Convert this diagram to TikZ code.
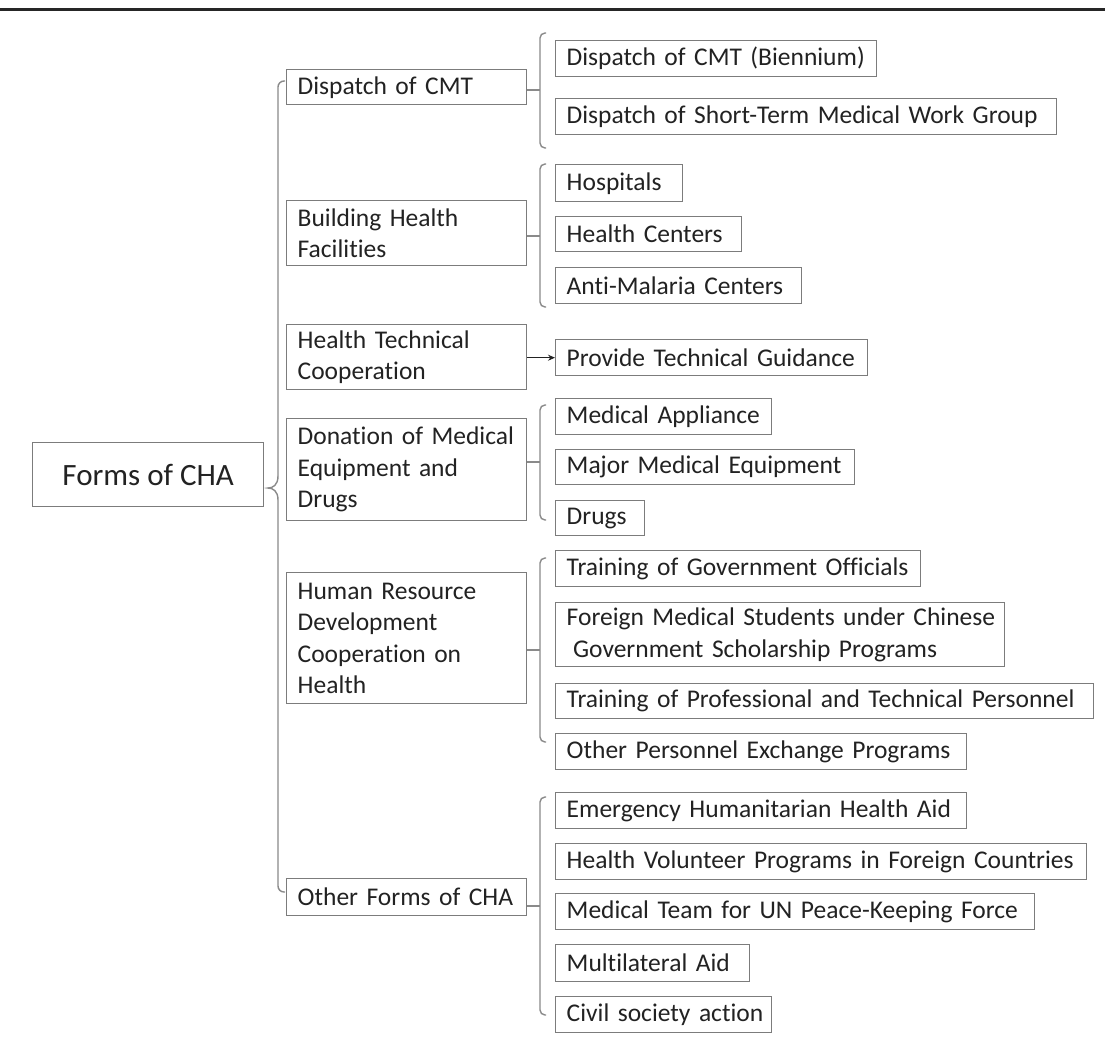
\documentclass[tikz,border=0pt]{standalone}
\usepackage{fontspec}
\setmainfont{Carlito}[Ligatures=NoCommon]
\usetikzlibrary{arrows.meta}
\definecolor{boxgray}{HTML}{7C7C7C}
\definecolor{txt}{HTML}{222222}
\definecolor{brgray}{HTML}{8A8A8A}
\tikzset{
  box/.style={draw=boxgray, line width=1.4pt, text=txt, anchor=north west,
    inner xsep=11pt, inner ysep=0pt, align=left,
    font=\fontsize{25.5}{31.5}\selectfont},
  rootbox/.style={draw=boxgray, line width=1.4pt, text=txt, anchor=north west,
    inner sep=0pt, align=center, font=\fontsize{31}{36}\selectfont},
  brace/.style={draw=brgray, line width=1.4pt},
  conn/.style={draw=txt, line width=1.3pt}
}
\newcommand{\bx}[6]{\node[box, minimum width=#4pt, text width=#4pt-22pt, minimum height=#5pt] (#1) at (#2,#3) {#6};}
\begin{document}
\begin{tikzpicture}[x=1pt,y=-1pt]
\useasboundingbox (0,0) rectangle (1105,1058);
\fill[white] (0,0) rectangle (1105,1058);
\coordinate (tl) at (0,9);
\coordinate (tr) at (1105,9);
\draw[line width=3pt, draw=black!85] (tl) -- (tr);

% root
\node[rootbox, minimum width=231pt, minimum height=64pt] (root) at (32,442) {Forms of CHA};

% level 1
\bx{a}{286}{69}{240}{35}{\mbox{Dispatch of CMT}}
\bx{b}{286}{200}{240}{65}{\mbox{Building Health}\\\mbox{Facilities}}
\bx{c}{286}{324}{240}{65}{\mbox{Health Technical}\\\mbox{Cooperation}}
\bx{d}{286}{418}{240}{102}{\mbox{Donation of Medical}\\\mbox{Equipment and}\\\mbox{Drugs}}
\bx{e}{286}{572}{240}{131}{\mbox{Human Resource}\\\mbox{Development}\\\mbox{Cooperation on}\\\mbox{Health}}
\bx{f}{286}{878}{240}{37}{\mbox{Other Forms of CHA}}

% level 2
\bx{a1}{555}{40}{321}{36}{\mbox{Dispatch of CMT (Biennium)}}
\bx{a2}{555}{98}{501}{36}{\mbox{Dispatch of Short-Term Medical Work Group}}
\bx{b1}{555}{164}{127}{37}{\mbox{Hospitals}}
\bx{b2}{555}{216}{186}{35}{\mbox{Health Centers}}
\bx{b3}{555}{267}{246}{36}{\mbox{Anti-Malaria Centers}}
\bx{c1}{555}{339}{312}{36}{\mbox{Provide Technical Guidance}}
\bx{d1}{555}{398}{216}{36}{\mbox{Medical Appliance}}
\bx{d2}{555}{449}{299}{35}{\mbox{Major Medical Equipment}}
\bx{d3}{555}{500}{89}{35}{\mbox{Drugs}}
\bx{e1}{555}{550}{365}{36}{\mbox{Training of Government Officials}}
\bx{e2}{555}{602}{449}{64}{\mbox{Foreign Medical Students under Chinese}\\\mbox{\hspace{0.25em}Government Scholarship Programs}}
\bx{e3}{555}{683}{538}{35}{\mbox{Training of Professional and Technical Personnel}}
\bx{e4}{555}{733}{411}{36}{\mbox{Other Personnel Exchange Programs}}
\bx{f1}{555}{792}{411}{36}{\mbox{Emergency Humanitarian Health Aid}}
\bx{f2}{555}{843}{531}{36}{\mbox{Health Volunteer Programs in Foreign Countries}}
\bx{f3}{555}{893}{479}{36}{\mbox{Medical Team for UN Peace-Keeping Force}}
\bx{f4}{555}{944}{194}{37}{\mbox{Multilateral Aid}}
\bx{f5}{555}{996}{216}{36}{\mbox{Civil society action}}

% root brace
\coordinate (rtop) at (285,81);
\coordinate (rbot) at (285,892);
\coordinate (rtip) at (268,488);
\draw[brace, rounded corners=6pt] (rtop) -- (278,81) -- (278,476);
\draw[brace] (278,476) .. controls (278,485) and (273,488) .. (rtip)
  .. controls (273,488) and (278,491) .. (278,500);
\draw[brace, rounded corners=6pt] (278,500) -- (278,892) -- (rbot);

% level-2 braces
\foreach \g/\t/\bt/\m in {a/33/148/90, b/164/307/236, d/405/520/462, e/558/742/650, f/797/1015/906}{
  \coordinate (\g top) at (546,\t);
  \coordinate (\g bot) at (546,\bt);
  \coordinate (\g mid) at (540,\m);
  \draw[brace, rounded corners=5pt] (\g top) -- (540,\t) -- (540,\bt) -- (\g bot);
  \draw[brace] (\g.east |- \g mid) -- (\g mid);
}

% arrow
\draw[conn, -{Stealth[length=7pt,width=6pt]}] (c.east |- c1.west) -- (c1.west);
\end{tikzpicture}
\end{document}
